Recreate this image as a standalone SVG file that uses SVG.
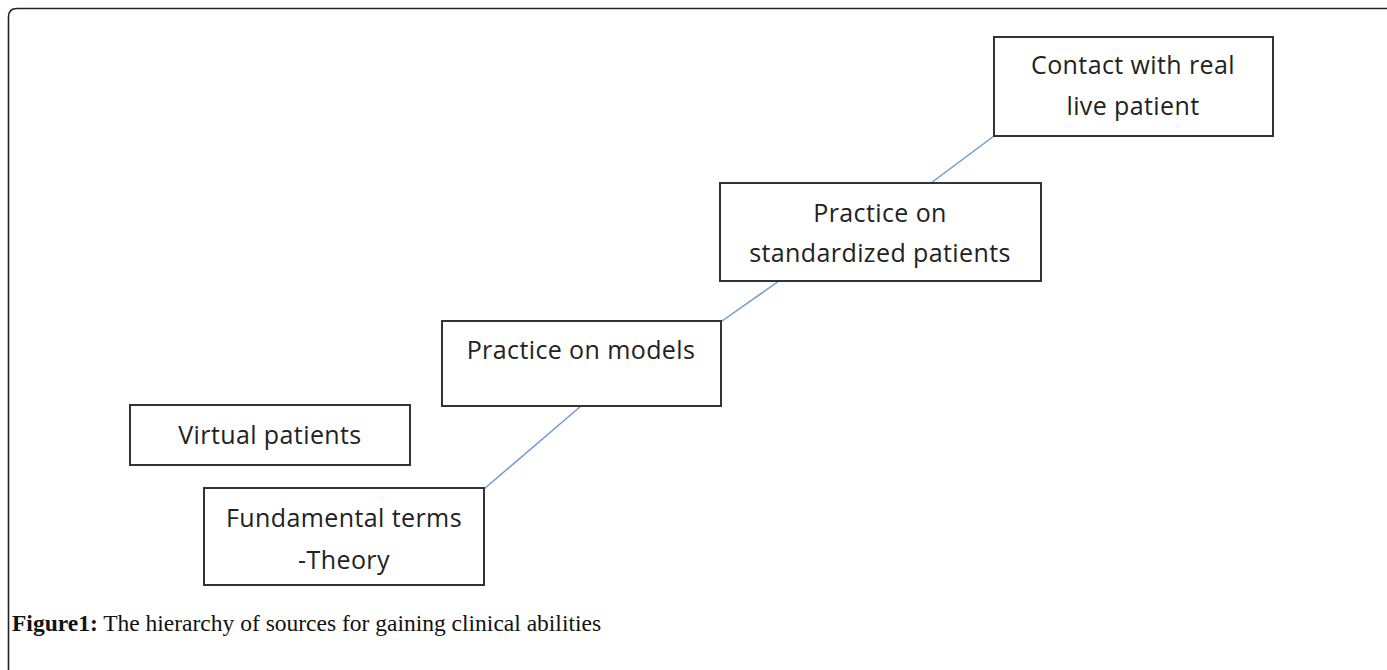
<svg xmlns="http://www.w3.org/2000/svg" width="1387" height="670" viewBox="0 0 1387 670">
<style>
.box{fill:#fff;stroke:#333;stroke-width:2}
.lbl{font-family:"Open Sans","Liberation Sans",sans-serif;font-size:25px;letter-spacing:0.4px;fill:#222;text-anchor:middle}
.conn{stroke:#6f9bd0;stroke-width:1.5;fill:none}
.cap{font-family:"Liberation Serif",serif;font-size:23.5px;fill:#111}
</style>
<rect width="1387" height="670" fill="#fff"/>
<path d="M8.5 670 V17 Q8.5 8.5 17 8.5 H1387" fill="none" stroke="#222" stroke-width="1.6"/>
<g id="connectors">
<line class="conn" x1="931" y1="183" x2="994" y2="136"/>
<line class="conn" x1="722" y1="321" x2="779" y2="281"/>
<line class="conn" x1="484" y1="489" x2="581" y2="406"/>
</g>
<g id="n-contact">
<rect class="box" x="994" y="37" width="279" height="99"/>
<text class="lbl" x="1133" y="74">Contact with real</text>
<text class="lbl" x="1133" y="115">live patient</text>
</g>
<g id="n-standardized">
<rect class="box" x="720" y="183" width="321" height="98"/>
<text class="lbl" x="880" y="222">Practice on</text>
<text class="lbl" x="880" y="262">standardized patients</text>
</g>
<g id="n-models">
<rect class="box" x="442" y="321" width="279" height="85"/>
<text class="lbl" x="581" y="359">Practice on models</text>
</g>
<g id="n-virtual">
<rect class="box" x="130" y="405" width="280" height="60"/>
<text class="lbl" x="270" y="444">Virtual patients</text>
</g>
<g id="n-fundamental">
<rect class="box" x="204" y="488" width="280" height="97"/>
<text class="lbl" x="344" y="527">Fundamental terms</text>
<text class="lbl" x="344" y="569">-Theory</text>
</g>
<text class="cap" x="12" y="631"><tspan font-weight="bold">Figure1:</tspan> The hierarchy of sources for gaining clinical abilities</text>
</svg>
